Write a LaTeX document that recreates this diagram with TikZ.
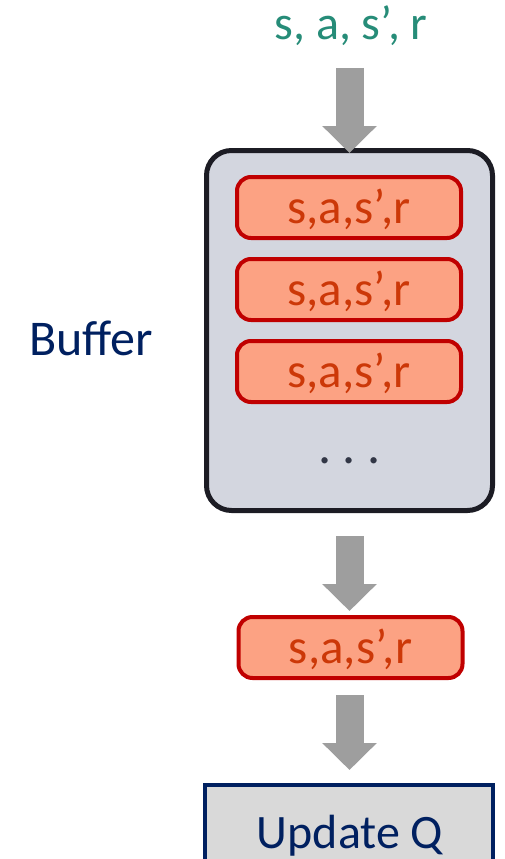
\documentclass[tikz,border=0pt]{standalone}
\usepackage{fontspec}
\setmainfont{Carlito}
\usetikzlibrary{arrows.meta}
\definecolor{intxt}{RGB}{38,140,120}
\definecolor{navy}{RGB}{0,32,96}
\definecolor{buffill}{RGB}{211,214,223}
\definecolor{bufline}{RGB}{28,28,36}
\definecolor{recfill}{RGB}{252,162,131}
\definecolor{recline}{RGB}{192,0,0}
\definecolor{rectxt}{RGB}{204,56,8}
\definecolor{arrgray}{RGB}{158,158,158}
\definecolor{dotcol}{RGB}{50,55,70}
\definecolor{updfill}{RGB}{217,217,217}
\begin{document}
\begin{tikzpicture}[x=1pt,y=-1pt,
  bigtext/.style={font=\fontsize{48}{52}\selectfont, inner sep=0pt, outer sep=0pt},
  bufferbox/.style={draw=bufline, fill=buffill, line width=5pt, rounded corners=25pt,
    minimum width=286pt, minimum height=360pt, inner sep=0pt},
  record/.style={draw=recline, fill=recfill, line width=4pt, rounded corners=14pt,
    minimum width=224pt, minimum height=61pt, inner sep=0pt,
    text=rectxt, font=\fontsize{49}{52}\selectfont, text height=34pt, text depth=3pt},
  updbox/.style={draw=navy, fill=updfill, line width=4pt, minimum width=288pt,
    minimum height=200pt, inner sep=0pt},
  fatarrow/.style={draw=arrgray, line width=28pt,
    -{Triangle[width=53pt,length=27pt]}}
]
\useasboundingbox (0,0) rectangle (505,859);
\clip (0,0) rectangle (505,859);

\node[bigtext, text=intxt, anchor=base] (in) at (351,40) {s, a, s’, r};

\node[bufferbox] (buffer) at (349.5,330.5) {};
\node[record] (r1) at (349,207.5) {s,a,s’,r};
\node[record] (r2) at (349,289.5) {s,a,s’,r};
\node[record] (r3) at (349,371.5) {s,a,s’,r};
\node[bigtext, text=dotcol, anchor=base, font=\fontsize{52}{56}\selectfont] (dots) at (349.5,463) {.\hspace{0.22em}.\hspace{0.22em}.};

\node[bigtext, text=navy, anchor=base, font=\fontsize{50}{54}\selectfont] (buflabel) at (91,355) {Buffer};

\node[record] (r4) at (350.5,647.5) {s,a,s’,r};

\node[updbox] (upd) at (349,885) {};
\node[bigtext, text=navy, anchor=base] (updtext) at (350,848) {Update Q};

\draw[fatarrow] ([yshift=-28pt]in.base -| buffer.north) -- ([yshift=-5pt]buffer.north);
\draw[fatarrow] ([yshift=-23pt]buffer.south) -- ([yshift=4pt]r4.north -| buffer.south);
\draw[fatarrow] ([yshift=-15pt]r4.south -| buffer.south) -- ([yshift=13pt]upd.north -| buffer.south);
\end{tikzpicture}
\end{document}
